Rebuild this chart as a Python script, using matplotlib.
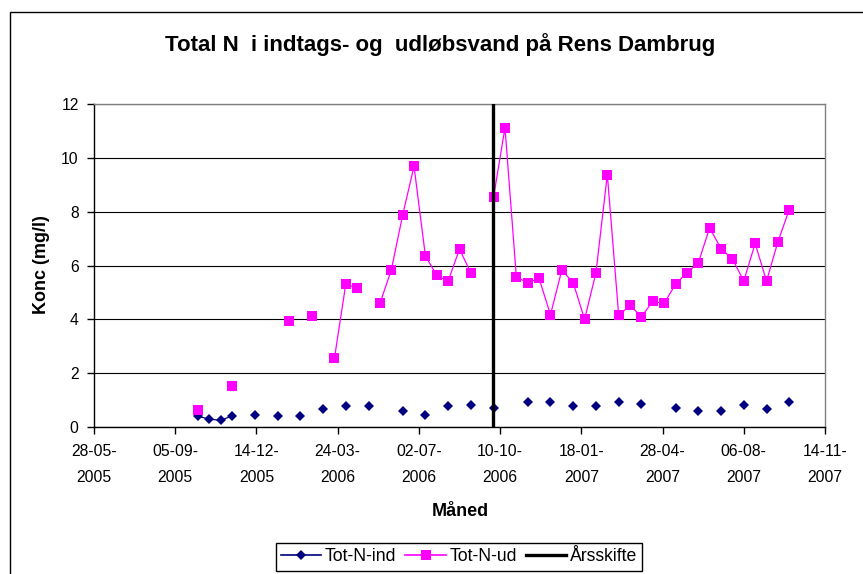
import matplotlib
matplotlib.use('Agg')
import matplotlib.pyplot as plt
import matplotlib.dates as mdates
from matplotlib.patches import Rectangle
from matplotlib.lines import Line2D
import numpy as np
import datetime as dt

plt.rcParams['font.family'] = ['Liberation Sans', 'DejaVu Sans']

nan = np.nan
datoer = [
    '2005-10-03', '2005-10-17', '2005-10-31', '2005-11-14', '2005-11-28', '2005-12-12',
    '2005-12-26', '2006-01-09', '2006-01-23', '2006-02-06', '2006-02-20', '2006-03-06',
    '2006-03-20', '2006-04-03', '2006-04-17', '2006-05-01', '2006-05-15', '2006-05-29',
    '2006-06-12', '2006-06-26', '2006-07-10', '2006-07-24', '2006-08-07', '2006-08-21',
    '2006-09-04', '2006-09-18', '2006-10-02', '2006-10-16', '2006-10-30', '2006-11-13',
    '2006-11-27', '2006-12-11', '2006-12-25', '2007-01-08', '2007-01-22', '2007-02-05',
    '2007-02-19', '2007-03-05', '2007-03-19', '2007-04-02', '2007-04-16', '2007-04-30',
    '2007-05-14', '2007-05-28', '2007-06-11', '2007-06-25', '2007-07-09', '2007-07-23',
    '2007-08-06', '2007-08-20', '2007-09-03', '2007-09-17', '2007-10-01',
]
tot_n_ind = [
    0.40, 0.29, 0.25, 0.41, nan, 0.46,
    nan, 0.41, nan, 0.41, nan, 0.66,
    nan, 0.78, nan, 0.78, nan, nan,
    0.61, nan, 0.46, nan, 0.78, nan,
    0.83, nan, 0.72, nan, nan, 0.92,
    nan, 0.93, nan, 0.77, nan, 0.77,
    nan, 0.92, nan, 0.87, nan, nan,
    0.71, nan, 0.60, nan, 0.60, nan,
    0.82, nan, 0.66, nan, 0.92,
]
tot_n_ud = [
    0.62, nan, nan, 1.51, nan, nan,
    nan, nan, 3.92, nan, 4.12, nan,
    2.55, 5.31, 5.16, nan, 4.59, 5.83,
    7.87, 9.69, 6.36, 5.63, 5.42, 6.61,
    5.73, nan, 8.55, 11.12, 5.57, 5.36,
    5.52, 4.17, 5.83, 5.36, 4.00, 5.73,
    9.38, 4.15, 4.52, 4.10, 4.67, 4.59,
    5.31, 5.73, 6.10, 7.40, 6.62, 6.25,
    5.42, 6.82, 5.42, 6.88, 8.08,
]
aarsskifte_dato = ['2006-10-01', '2006-10-01']
aarsskifte_y = [0, 12]

x_start = '2005-05-28'
x_slut = '2007-11-14'
y_ticks = [0, 2, 4, 6, 8, 10, 12]

titel = 'Total N  i indtags- og  udløbsvand på Rens Dambrug'
serie_navne = ['Tot-N-ind', 'Tot-N-ud', 'Årsskifte']

W, H = 863, 574
fig = plt.figure(figsize=(W / 100, H / 100), dpi=100)
fig.patch.set_facecolor('white')

# outer chart border (cut on right and bottom)
fig.patches.append(Rectangle((10 / W, -0.5), 2.0, 0.5 + (1 - 12 / H), transform=fig.transFigure,
                             fill=False, edgecolor='black', linewidth=1.0, zorder=0))

ax = fig.add_axes([94 / W, 1 - 427 / H, (825 - 94) / W, (427 - 104) / H])

d = [dt.datetime.strptime(s, '%Y-%m-%d') for s in datoer]
xs = mdates.date2num(d)
xa = mdates.date2num([dt.datetime.strptime(s, '%Y-%m-%d') for s in aarsskifte_dato])
x0 = mdates.date2num(dt.datetime.strptime(x_start, '%Y-%m-%d'))
x1 = mdates.date2num(dt.datetime.strptime(x_slut, '%Y-%m-%d'))

ax.plot(xs, tot_n_ind, color='#000080', marker='D', markersize=4.8, linewidth=0.9,
        markeredgewidth=0, label=serie_navne[0], zorder=3)
ax.plot(xs, tot_n_ud, color='#FF00FF', marker='s', markersize=6.8, linewidth=0.9,
        markeredgewidth=0, label=serie_navne[1], zorder=3)
ax.plot(xa, aarsskifte_y, color='black', linewidth=2.4, label=serie_navne[2], zorder=4)

ax.set_xlim(x0, x1)
ax.set_ylim(0, 12)
ticks = np.arange(x0, x1 + 1, 100)
ax.set_xticks(ticks)
ax.set_xticklabels([mdates.num2date(t).strftime('%d-%m-\n%Y') for t in ticks],
                   fontsize=11.3, linespacing=1.95)
ax.set_yticks(y_ticks)
ax.set_yticklabels([str(v) for v in y_ticks], fontsize=11.3)
ax.tick_params(axis='x', length=5, width=1, direction='out', pad=7, colors='black')
ax.tick_params(axis='y', length=5, width=1, direction='out', pad=6, colors='black')

ax.grid(axis='y', color='black', linewidth=0.8)
ax.set_axisbelow(True)
for s in ['top', 'right']:
    ax.spines[s].set_color('#808080')
    ax.spines[s].set_linewidth(1.0)
for s in ['left', 'bottom']:
    ax.spines[s].set_color('black')
    ax.spines[s].set_linewidth(1.0)

fig.text(440 / W, 1 - 51 / H, titel, ha='center', va='baseline', fontsize=16, fontweight='bold')
fig.text(460 / W, 1 - 511 / H, 'Måned', ha='center', va='center', fontsize=13, fontweight='bold')
fig.text(41 / W, 1 - 265 / H, 'Konc (mg/l)', ha='center', va='center', rotation=90,
         fontsize=13, fontweight='bold')

handles = [
    Line2D([], [], color='#000080', marker='D', markersize=4.8, linewidth=1.2, markeredgewidth=0),
    Line2D([], [], color='#FF00FF', marker='s', markersize=6.8, linewidth=1.2, markeredgewidth=0),
    Line2D([], [], color='black', linewidth=2.4),
]
leg = fig.legend(handles, serie_navne, loc='upper center',
                 bbox_to_anchor=(459 / W, 1 - 543 / H), ncol=3, fontsize=12.7,
                 frameon=True, fancybox=False, framealpha=1, edgecolor='black',
                 handlelength=2.3, handletextpad=0.2, columnspacing=0.5, borderpad=0.3,
                 borderaxespad=0)
leg.get_frame().set_linewidth(1.0)

fig.savefig('out.png', dpi=100)
